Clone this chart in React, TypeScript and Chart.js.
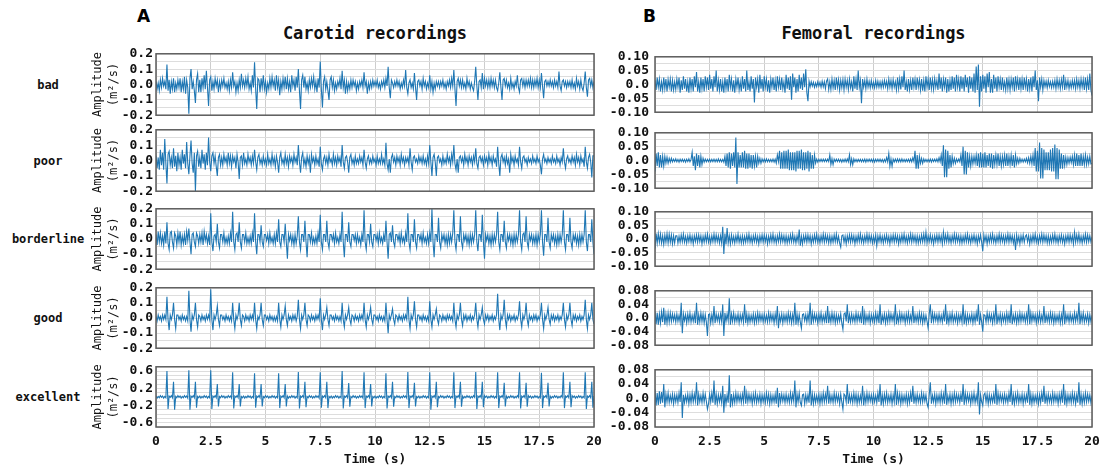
import React, { useEffect, useRef } from "react";
import { Chart, registerables } from "chart.js";

Chart.register(...registerables);

const FONT = "'DejaVu Sans Mono', monospace";
const LINE_COLOR = "#1f77b4";

// Sample times (s), one sample every 0.05 s from 0 to 20
const TIME: number[] = Array.from({ length: 401 }, (_, i) => i / 20);
const X_TICK_STEP = 2.5;

const ROW_LABELS = ["bad", "poor", "borderline", "good", "excellent"];
const COLUMN_TITLES = ["Carotid recordings", "Femoral recordings"];
const PANEL_LETTERS = ["A", "B"];

// ---- Carotid recordings (m²/s), one row per second ----
const CAROTID_BAD = [
  .02,-.03,.01,-.04,.03,-.02,.04,-.01,.02,-.03,.13,-.04,.03,-.06,.02,-.03,.04,-.05,.01,-.03,
  .03,-.02,.04,-.05,.02,-.03,.05,-.06,.03,-.02,-.19,.04,.10,-.03,.02,-.04,-.12,.03,.07,-.05,
  .03,-.05,.04,-.02,.06,-.03,.09,-.02,-.14,.03,.05,-.04,.02,-.03,.04,-.01,.03,-.05,.02,-.03,
  .03,-.01,.04,-.02,.01,-.03,.02,-.04,.03,-.02,.08,-.01,.02,-.05,.01,-.04,.03,-.02,.07,-.01,
  .03,-.02,.04,-.01,.05,-.03,.01,-.04,.06,-.02,.145,-.03,-.16,.04,.03,-.05,.04,-.02,.06,-.03,
  .02,-.05,.01,-.03,.04,-.02,.05,-.01,.03,-.04,.06,-.02,.03,-.07,.02,-.03,.04,-.02,.05,-.03,
  .04,-.03,.02,-.05,.06,-.01,.03,-.04,.05,-.02,.10,-.04,-.16,.03,.06,-.02,.05,-.03,.01,-.04,
  .03,-.02,.04,-.01,.05,-.03,.02,-.05,.04,-.02,.15,-.03,-.15,.02,.05,-.03,.02,-.04,-.10,.03,
  .05,-.02,.03,-.04,.01,-.03,.02,-.01,.04,-.03,.09,-.02,.03,-.06,.02,-.04,.01,-.03,.03,-.02,
  .03,-.01,.02,-.04,.01,-.03,.02,-.01,.03,-.02,.08,-.01,.02,-.06,.01,-.03,.02,-.02,.03,-.01,
  .02,-.01,.03,-.02,.01,-.03,.02,-.01,.03,-.02,.04,-.01,.115,-.02,-.09,.03,.01,-.02,.02,-.01,
  .03,-.01,.02,-.03,.01,-.02,.03,-.01,.095,-.02,-.06,.01,.03,-.02,.01,-.03,.075,-.02,-.10,.02,
  .03,-.01,.02,-.03,.04,-.01,.02,-.03,.01,-.02,.06,-.03,.02,-.05,.01,-.03,.02,-.01,.02,-.02,
  .02,-.01,.03,-.02,.01,-.03,.02,-.01,.03,-.02,.04,-.01,.095,-.03,-.14,.02,.04,-.01,.03,-.02,
  .03,-.02,.01,-.03,.04,-.01,.02,-.03,.01,-.02,-.04,.02,.115,-.01,-.10,.02,.03,-.02,.075,-.03,
  .04,-.01,.03,-.02,.03,-.02,.04,-.01,.03,-.02,.03,-.02,-.04,.01,.08,-.02,-.10,.03,.04,-.01,
  .03,-.02,.01,-.03,.04,-.02,.01,-.03,.02,-.01,.06,-.02,-.05,.03,.04,-.01,.03,-.02,.03,-.01,
  .03,-.01,.04,-.02,.03,-.02,.03,-.01,.04,-.02,.03,-.02,.075,-.01,-.09,.02,.03,-.01,.02,-.01,
  .03,-.01,.02,-.02,.03,-.01,.02,-.02,.085,-.01,-.04,.02,.03,-.01,.02,-.02,.02,-.01,.02,-.02,
  .03,-.02,.01,-.03,.04,-.01,.02,-.03,.03,-.02,-.04,.01,.085,-.02,-.08,.03,.04,-.01,.03,-.02,
  .02,
];
const CAROTID_POOR = [
  .03,-.05,.02,-.06,.07,-.03,.05,-.06,.14,-.02,-.15,.04,.06,-.03,.02,-.05,.08,-.04,.03,-.07,
  .05,-.03,.02,-.06,.07,-.02,.04,-.05,.12,-.02,-.09,.03,.13,-.02,-.08,.05,-.20,.03,.06,-.04,
  .02,-.05,.07,-.02,.04,-.06,.05,-.03,.15,-.01,-.07,.03,.05,-.02,.03,-.04,-.10,.02,.04,-.03,
  .02,-.03,.04,-.01,.02,-.03,.05,-.02,.03,-.04,.03,-.01,.02,-.05,.04,-.01,-.12,.02,.03,-.03,
  .05,-.02,.01,-.03,.04,-.01,.02,-.03,.03,-.02,.07,-.01,-.06,.02,.04,-.02,.01,-.03,.03,-.02,
  .01,-.03,.04,-.02,.01,-.03,.04,-.02,.02,-.04,.03,-.01,-.08,.02,.05,-.02,.01,-.03,.04,-.02,
  .02,-.04,.03,-.01,.02,-.03,.04,-.01,.02,-.03,.10,-.01,-.08,.02,.05,-.03,.01,-.04,.03,-.02,
  .02,-.08,.04,-.01,.02,-.03,.03,-.02,.01,-.04,.09,-.02,-.06,.01,.03,-.02,.02,-.03,.04,-.01,
  .01,-.03,.04,-.02,.02,-.03,.03,-.01,.02,-.04,.10,-.01,-.05,.02,.03,-.01,-.08,.02,.04,-.02,
  .01,-.03,.03,-.02,.01,-.02,.03,-.01,.02,-.03,.07,-.01,-.05,.01,.03,-.02,.01,-.02,.03,-.01,
  .01,-.03,.03,-.02,.01,-.02,.04,-.02,.01,-.03,.115,-.02,-.06,.01,-.08,.02,.04,-.01,.02,-.03,
  .03,-.01,.02,-.03,.04,-.01,.02,-.03,.02,-.01,.02,-.03,.08,-.01,-.06,.02,.03,-.01,.01,-.02,
  .03,-.01,.02,-.02,.03,-.02,.01,-.03,.03,-.02,.10,-.01,-.10,.02,.04,-.01,-.10,.02,.03,-.01,
  .01,-.03,.03,-.02,.01,-.02,.04,-.01,.02,-.03,.04,-.01,.10,-.02,-.06,.01,-.08,.02,.03,-.01,
  .02,-.03,.04,-.01,.02,-.03,.03,-.01,.02,-.03,.03,-.01,.08,-.02,-.05,.02,.03,-.01,.02,-.03,
  .03,-.01,.02,-.03,.04,-.01,.02,-.03,.03,-.01,.01,-.04,.09,-.02,-.10,.02,.04,-.01,.02,-.03,
  .03,-.02,.01,-.08,.04,-.01,.02,-.03,.03,-.01,.01,-.03,.09,-.01,-.05,.02,.03,-.01,.01,-.03,
  .02,-.01,.01,-.02,.03,-.01,.01,-.02,.03,-.01,.01,-.03,-.09,.01,.04,-.01,.01,-.02,.02,-.01,
  .01,-.02,.03,-.01,.01,-.02,.03,-.01,.01,-.03,.02,-.01,.08,-.01,-.05,.01,.03,-.01,.01,-.02,
  .03,-.01,.02,-.03,.04,-.01,.02,-.03,.03,-.01,.01,-.04,.09,-.01,-.05,.02,.04,-.01,-.11,.03,
  .03,
];
const CAROTID_BORDERLINE = [
  .03,-.04,.05,-.02,.04,-.03,.02,-.04,.05,-.03,.11,-.03,-.07,.04,.05,-.02,-.06,.04,.02,-.04,
  .04,-.02,.05,-.04,.02,-.03,.03,-.04,.05,-.01,.07,-.02,-.10,.03,.04,-.02,-.05,.04,.02,-.03,
  .03,-.02,.04,-.04,.05,-.01,.03,-.03,.02,-.04,.17,-.02,-.08,.02,.03,-.02,.10,-.02,-.06,.03,
  .03,-.02,.04,-.03,.01,-.03,.02,-.03,.04,-.02,.18,-.02,-.07,.03,.04,-.02,.11,-.02,-.06,.03,
  .03,-.02,.04,-.03,.01,-.03,.02,-.03,.04,-.02,.17,-.02,-.10,.03,.03,-.02,.09,-.02,-.05,.03,
  .03,-.01,.03,-.03,.04,-.02,.01,-.03,.03,-.03,.04,-.02,.13,-.02,-.05,.03,.03,-.02,.10,-.02,
  -.13,.03,-.01,.03,-.03,.02,-.04,.03,-.03,.02,.15,-.02,-.07,.03,.03,-.02,.12,-.02,-.12,.03,
  .03,-.02,.04,-.03,.01,-.03,.02,-.03,.04,-.02,.16,-.02,-.07,.03,.03,-.02,.12,-.02,-.06,.03,
  .03,-.01,.03,-.03,.04,-.02,.01,-.03,.03,-.02,.18,-.02,-.12,.03,.03,-.02,.11,-.02,-.05,.03,
  .03,-.01,.03,-.03,.03,-.02,.01,-.04,.03,-.02,.19,-.02,-.07,.03,.03,-.02,.10,-.02,-.05,.03,
  .03,-.01,.03,-.03,.04,-.02,.01,-.03,.03,-.02,.12,-.02,-.13,.03,.04,-.02,.09,-.02,-.05,.03,
  .03,-.01,.03,-.03,.04,-.02,.01,-.03,.04,-.02,.17,-.02,-.07,.03,.03,-.02,.13,-.02,-.06,.03,
  .03,-.01,.03,-.03,.04,-.02,.01,-.03,.03,-.03,.04,-.02,.20,-.02,-.12,.03,.03,-.02,.14,-.02,
  -.06,.03,-.01,.03,-.03,.02,-.04,.03,-.03,.03,-.02,.04,.19,-.02,-.07,.03,.03,-.02,.15,-.02,
  -.06,.03,-.01,.03,-.03,.02,-.04,.03,-.03,.03,-.02,.03,.19,-.02,-.08,.03,.03,-.02,.16,-.02,
  -.13,.03,-.01,.03,-.03,.02,-.04,.03,-.03,.03,-.02,.03,.18,-.02,-.07,.03,.03,-.02,.12,-.02,
  -.06,.03,-.01,.03,-.03,.02,-.04,.03,-.03,.03,-.02,.03,.19,-.02,-.07,.03,.04,-.02,.15,-.02,
  -.06,.03,-.01,.03,-.03,.02,-.03,.03,-.04,.03,-.02,.03,.19,-.02,-.11,.03,.03,-.02,.14,-.02,
  -.06,.03,-.01,.03,-.03,.02,-.04,.03,-.03,.03,-.02,.03,.19,-.02,-.07,.03,.03,-.02,.14,-.02,
  -.06,.03,-.01,.03,-.03,.02,-.04,.03,-.03,.03,-.02,.03,.19,-.02,-.08,.03,.03,-.02,.13,-.02,
  -.10,
];
const CAROTID_GOOD = [
  .01,-.02,.02,-.01,.01,-.02,.02,-.01,.02,-.01,.14,-.01,-.08,.02,-.01,.02,.10,-.01,-.07,.02,
  .02,-.01,.01,-.02,.02,-.01,.01,-.02,.01,-.02,.18,-.01,-.09,.02,-.01,.02,.10,-.01,-.06,.02,
  .01,-.02,.02,-.01,.01,-.02,.02,-.01,.02,-.01,.19,-.01,-.08,.02,-.01,.02,.08,-.01,-.05,.02,
  .02,-.01,.01,-.02,.02,-.01,.01,-.02,.01,-.02,.10,-.01,-.07,.02,-.01,.02,.10,-.01,-.05,.02,
  .01,-.02,.02,-.01,.01,-.02,.02,-.01,.02,-.01,.10,-.01,-.07,.01,-.01,.02,.10,-.01,-.05,.02,
  .02,-.01,.01,-.02,.02,-.01,.01,-.02,.01,-.02,.01,-.02,.10,-.01,-.06,.02,-.01,.02,.08,-.01,
  -.05,.02,-.01,.01,-.02,.02,-.01,.02,-.02,.01,.12,-.01,-.07,.02,-.01,.02,.10,-.01,-.05,.02,
  .01,-.02,.02,-.01,.01,-.02,.02,-.01,.02,-.01,.13,-.01,-.08,.02,-.01,.02,.07,-.01,-.05,.02,
  .02,-.01,.01,-.02,.02,-.01,.01,-.02,.01,-.02,.10,-.01,-.06,.02,-.01,.02,.07,-.01,-.04,.02,
  .01,-.02,.02,-.01,.01,-.02,.02,-.01,.02,-.01,.10,-.01,-.06,.02,-.01,.02,.07,-.01,-.04,.02,
  .02,-.01,.01,-.02,.02,-.01,.01,-.02,.01,-.02,.10,-.01,-.10,.02,-.01,.02,.06,-.01,-.04,.02,
  .01,-.02,.02,-.01,.01,-.02,.02,-.01,.02,-.01,.14,-.01,-.07,.02,-.01,.02,.11,-.01,-.06,.02,
  .02,-.01,.01,-.02,.02,-.01,.01,-.02,.01,-.02,.11,-.01,-.06,.02,-.01,.02,.06,-.01,-.04,.02,
  .01,-.02,.02,-.01,.01,-.02,.02,-.01,.02,-.01,.01,-.02,.10,-.01,-.06,.02,-.01,.02,.10,-.01,
  -.05,.02,-.01,.02,-.02,.01,-.01,.02,-.02,.01,-.01,.02,.10,-.01,-.06,.02,-.01,.02,.07,-.01,
  -.04,.02,-.01,.02,-.02,.01,-.01,.02,-.02,.01,-.01,.02,.16,-.01,-.08,.02,-.01,.02,.12,-.01,
  -.06,.02,-.01,.02,-.02,.01,-.01,.02,-.02,.01,-.01,.02,.11,-.01,-.06,.02,-.01,.02,.10,-.01,
  -.05,.02,-.01,.01,-.02,.02,-.01,.02,-.02,.01,-.01,.02,.10,-.01,-.07,.02,-.01,.02,.07,-.01,
  -.04,.02,-.01,.02,-.02,.01,-.01,.02,-.02,.01,-.01,.02,.10,-.01,-.06,.02,-.01,.02,.10,-.01,
  -.05,.02,-.01,.02,-.02,.01,-.01,.02,-.02,.01,-.01,.02,.12,-.01,-.07,.02,-.01,.02,.10,-.01,
  -.04,
];
const CAROTID_EXCELLENT = [
  .02,-.03,.01,-.02,.03,-.01,.02,-.03,.01,-.02,.60,-.28,.02,-.01,.03,-.02,.35,-.30,.01,-.02,
  .03,-.01,.02,-.03,.01,-.02,.03,-.01,.02,-.03,.62,-.30,.02,-.01,.03,-.02,.35,-.25,.01,-.02,
  .02,-.03,.01,-.02,.03,-.01,.02,-.03,.01,-.02,.62,-.28,.02,-.01,.03,-.02,.30,-.22,.01,-.02,
  .03,-.01,.02,-.03,.01,-.02,.03,-.01,.02,-.03,.57,-.27,.02,-.01,.03,-.02,.30,-.22,.01,-.02,
  .02,-.03,.01,-.02,.03,-.01,.02,-.03,.01,-.02,.55,-.25,.02,-.01,.03,-.02,.30,-.22,.01,-.02,
  .03,-.01,.02,-.03,.01,-.02,.03,-.01,.02,-.03,.01,-.02,.55,-.26,.02,-.01,.03,-.02,.30,-.22,
  .02,-.03,.01,-.02,.03,-.01,.02,-.03,.01,-.02,.58,-.27,.02,-.01,.03,-.02,.35,-.24,.01,-.02,
  .03,-.01,.02,-.03,.01,-.02,.03,-.01,.02,-.03,.57,-.25,.02,-.01,.03,-.02,.35,-.26,.01,-.02,
  .02,-.03,.01,-.02,.03,-.01,.02,-.03,.01,-.02,.60,-.27,.02,-.01,.03,-.02,.32,-.23,.01,-.02,
  .03,-.01,.02,-.03,.01,-.02,.03,-.01,.02,-.03,.57,-.26,.02,-.01,.03,-.02,.30,-.22,.01,-.02,
  .02,-.03,.01,-.02,.03,-.01,.02,-.03,.01,-.02,.55,-.27,.02,-.01,.03,-.02,.35,-.23,.01,-.02,
  .03,-.01,.02,-.03,.01,-.02,.03,-.01,.02,-.03,.58,-.26,.02,-.01,.03,-.02,.33,-.22,.01,-.02,
  .02,-.03,.01,-.02,.03,-.01,.02,-.03,.01,-.02,.57,-.30,.02,-.01,.03,-.02,.35,-.24,.01,-.02,
  .03,-.01,.02,-.03,.01,-.02,.03,-.01,.02,-.03,.01,-.02,.57,-.26,.02,-.01,.03,-.02,.35,-.23,
  .02,-.03,.01,-.02,.03,-.01,.02,-.03,.01,-.02,.03,-.01,.58,-.28,.02,-.01,.03,-.02,.35,-.24,
  .03,-.01,.02,-.03,.01,-.02,.03,-.01,.02,-.03,.01,-.02,.57,-.26,.02,-.01,.03,-.02,.33,-.22,
  .02,-.03,.01,-.02,.03,-.01,.02,-.03,.01,-.02,.03,-.01,.57,-.27,.02,-.01,.03,-.02,.33,-.23,
  .03,-.01,.02,-.03,.01,-.02,.03,-.01,.02,-.03,.01,-.02,.56,-.26,.02,-.01,.03,-.02,.33,-.22,
  .02,-.03,.01,-.02,.03,-.01,.02,-.03,.01,-.02,.03,-.01,.57,-.26,.02,-.01,.03,-.02,.35,-.24,
  .03,-.01,.02,-.03,.01,-.02,.03,-.01,.02,-.03,.01,-.02,.57,-.28,.02,-.01,.03,-.02,.35,-.25,
  .02,
];

// ---- Femoral recordings (m²/s), one row per second ----
const FEMORAL_BAD = [
  .015,-.02,.025,-.01,.02,-.025,.01,-.02,.025,-.015,.02,-.025,.018,-.01,.02,-.025,.015,-.02,.01,-.018,
  .02,-.01,.025,-.03,.015,-.02,.03,-.015,.02,-.025,.01,-.03,.025,-.015,.02,-.025,.03,-.01,.045,-.025,
  .01,-.03,.025,-.015,.02,-.025,.03,-.01,.025,-.02,.035,-.015,.02,-.025,.03,-.01,.05,-.025,.015,-.02,
  .02,-.025,.01,-.03,.025,-.015,.02,-.025,.035,-.01,.02,-.025,.015,-.03,.02,-.01,.025,-.02,.01,-.025,
  .03,-.015,.02,-.025,.05,-.02,.01,-.025,.03,-.015,.02,-.065,.025,-.01,.02,-.03,.035,-.015,.02,-.025,
  .03,-.01,.02,-.025,.015,-.03,.02,-.01,.025,-.02,.015,-.025,.03,-.01,.02,-.02,.025,-.015,.01,-.03,
  .035,-.015,.025,-.02,.03,-.055,.04,-.01,.025,-.03,.02,-.025,.035,-.015,.025,-.02,.04,-.01,.055,-.03,
  -.06,.012,-.008,.01,-.006,.008,-.01,.006,-.008,.01,-.006,.008,-.01,.012,-.008,.01,-.015,.012,.02,-.018,
  .01,-.018,.02,-.012,.015,-.02,.025,-.01,.018,-.02,.015,-.012,.018,-.02,.02,-.01,.015,-.018,.02,-.012,
  .01,-.025,.03,-.015,.02,-.02,.05,-.01,.015,-.068,.02,-.01,.015,-.015,.02,-.01,.012,-.012,.015,-.01,
  .008,-.012,.015,-.01,.012,-.01,.01,-.012,.012,-.01,.015,-.008,.012,-.015,.02,-.01,.015,-.015,.018,-.01,
  .01,-.02,.025,-.015,.02,-.018,.03,-.01,.05,-.02,.01,-.025,.02,-.018,.015,-.02,.025,-.01,.02,-.02,
  .025,-.01,.018,-.02,.02,-.022,.015,-.025,.03,-.01,.02,-.02,.025,-.015,.018,-.018,.022,-.01,.015,-.02,
  .04,-.015,.025,-.025,.02,-.01,.025,-.03,.02,-.025,.015,-.02,.03,-.015,.025,-.025,.035,-.01,.02,-.025,
  .03,-.015,.025,-.025,.035,-.01,.025,-.03,.03,-.015,.025,-.025,.04,-.03,.065,-.02,.072,-.08,.03,-.025,
  .035,-.015,.03,-.03,.04,-.01,.045,-.03,.02,-.03,.035,-.015,.025,-.025,.03,-.01,.02,-.02,.025,-.015,
  .01,-.02,.025,-.015,.018,-.02,.02,-.01,.025,-.025,.03,-.01,.02,-.02,.025,-.015,.02,-.02,.025,-.01,
  .02,-.025,.02,-.015,.025,-.025,.03,-.01,.05,-.02,.015,-.06,.025,-.01,.02,-.02,.015,-.008,.012,-.012,
  .015,-.008,.01,-.012,.012,-.01,.015,-.015,.02,-.01,.015,-.015,.018,-.01,.035,-.02,.015,-.01,.015,-.015,
  .01,-.012,.015,-.01,.015,-.015,.02,-.01,.015,-.015,.02,-.01,.018,-.02,.025,-.015,.02,-.02,.04,-.02,
  -.04,
];
const FEMORAL_POOR = [
  -.04,.025,-.02,.03,-.025,.02,-.025,.015,-.02,.015,-.01,.012,-.01,.008,-.006,.008,-.005,.005,-.004,.006,
  -.005,.004,-.006,.005,-.004,.005,-.005,.004,-.006,.005,-.004,.006,-.005,.004,.03,-.02,.015,-.035,.025,-.02,
  .02,-.025,.015,-.015,.008,-.006,.005,-.005,.004,-.004,.005,-.005,.004,-.004,.005,-.005,.004,-.005,.006,-.005,
  .004,-.005,.004,-.006,.015,-.02,.025,-.025,.03,-.03,.025,-.02,.03,-.025,.083,-.085,.03,-.025,.02,-.025,
  .03,-.025,.035,-.03,.025,-.03,.025,-.025,.02,-.03,.02,-.02,.015,-.025,.015,-.01,.008,-.01,.006,-.005,
  .005,-.005,.006,-.005,.004,-.005,.004,-.005,.005,-.006,.005,-.01,.02,-.004,.035,-.03,.03,-.03,.035,-.03,
  .035,-.03,.04,-.035,.03,-.035,.03,-.035,.03,-.04,.035,-.03,.035,-.03,.04,-.035,.03,-.035,.03,-.03,
  .035,-.04,.03,-.03,.02,-.03,.02,-.01,.005,-.006,.005,-.004,.005,-.004,.005,-.004,.005,-.004,.005,-.004,
  .02,-.015,.006,-.015,.005,-.004,.005,-.004,.005,-.005,.004,-.006,.004,-.005,.005,-.005,.006,-.005,.02,-.015,
  .006,-.015,.006,-.005,.004,-.005,.004,-.004,.004,-.005,.004,-.005,.005,-.006,.005,-.004,.005,-.004,.005,-.005,
  .005,-.006,.005,-.004,.005,-.004,.005,-.005,.004,-.006,.004,-.005,.01,-.005,.025,-.02,.006,-.02,.005,-.005,
  .005,-.005,.006,-.005,.005,-.005,.006,-.005,.004,-.005,.004,-.004,.005,-.005,.006,-.005,.01,-.004,.035,-.03,
  .02,-.03,.015,-.01,.008,-.01,.006,-.005,.004,-.005,.004,-.005,.005,-.006,.005,-.004,.005,-.004,.006,-.005,
  .01,-.005,.02,-.02,.055,-.06,.04,-.06,.035,-.03,.02,-.025,.015,-.012,.008,-.01,.006,-.005,.005,-.005,
  .02,-.02,.05,-.05,.035,-.05,.03,-.025,.015,-.02,.015,-.012,.015,-.01,.02,-.02,.025,-.025,.03,-.025,
  .025,-.025,.03,-.025,.02,-.02,.025,-.025,.025,-.03,.02,-.015,.02,-.015,.025,-.02,.015,-.02,.015,-.015,
  .02,-.02,.025,-.02,.015,-.015,.02,-.02,.02,-.025,.02,-.012,.008,-.01,.008,-.006,.005,-.006,.005,-.005,
  .008,-.008,.01,-.01,.015,-.012,.02,-.02,.045,-.04,.035,-.04,.065,-.065,.045,-.065,.04,-.035,.03,-.035,
  .03,-.035,.04,-.04,.045,-.04,.058,-.068,.045,-.068,.04,-.03,.025,-.03,.02,-.018,.012,-.015,.01,-.01,
  .012,-.008,.015,-.015,.02,-.02,.025,-.02,.02,-.02,.025,-.02,.015,-.015,.02,-.015,.012,-.012,.015,-.012,
  -.01,
];
const FEMORAL_BORDERLINE = [
  -.035,.02,-.015,.02,-.012,.018,-.015,.012,-.02,.015,-.012,.02,-.015,.018,-.012,.015,-.018,.012,-.015,.012,
  .012,-.015,.01,-.012,.015,-.01,.018,-.012,.01,-.015,.012,-.01,.015,-.012,.01,-.018,.012,-.01,.015,-.012,
  .015,-.01,.012,-.018,.01,-.012,.015,-.01,.018,-.012,.01,-.015,.012,-.01,.018,-.012,.015,-.01,.012,-.015,
  .012,-.015,.045,-.055,.02,-.02,.04,-.015,.012,-.018,.015,-.012,.01,-.015,.012,-.01,.018,-.012,.01,-.015,
  .012,-.015,.01,-.012,.015,-.01,.018,-.012,.01,-.015,.012,-.01,.015,-.012,.01,-.018,.012,-.01,.015,-.012,
  .015,-.01,.012,-.018,.01,-.012,.015,-.01,.018,-.012,.01,-.015,.012,-.01,.018,-.012,.015,-.01,.012,-.015,
  .012,-.015,.01,-.012,.015,-.01,.018,-.012,.01,-.015,.012,-.01,.035,-.025,.01,-.018,.012,-.01,.015,-.012,
  .015,-.01,.012,-.018,.01,-.012,.015,-.01,.018,-.012,.01,-.015,.012,-.01,.018,-.012,.015,-.01,.012,-.015,
  .012,-.015,.01,-.012,.015,-.01,.018,-.012,.01,-.015,-.03,.012,.015,-.012,.01,-.018,.012,-.01,.015,-.012,
  .015,-.01,.012,-.018,.01,-.012,.015,-.01,.018,-.012,.01,-.015,.012,-.01,.018,-.012,.015,-.01,.012,-.015,
  .01,-.012,.015,-.025,.012,-.01,.015,-.012,.01,-.015,.012,-.01,.015,-.012,.01,-.018,.012,-.01,.015,-.012,
  .015,-.01,.012,-.018,.01,-.012,.015,-.01,.018,-.012,.01,-.015,.012,-.01,.018,-.012,.015,-.01,.012,-.015,
  .012,-.015,.01,-.012,.015,-.01,.018,-.012,.025,-.015,.012,-.01,.015,-.012,.01,-.018,.012,-.01,.015,-.012,
  .015,-.01,.012,-.018,.025,-.012,.015,-.01,.018,-.012,.01,-.015,.012,-.01,.018,-.012,.015,-.01,.012,-.015,
  .012,-.015,.01,-.012,.015,-.01,.018,-.012,.01,-.015,.012,-.01,.015,-.012,.01,-.018,.012,-.01,.015,-.012,
  -.045,.015,-.01,.012,-.018,.01,-.012,.015,-.01,.018,-.012,.01,-.015,.012,-.01,.018,-.012,.015,-.01,.012,
  -.015,.012,-.01,.018,-.012,.015,-.01,.012,-.015,.01,-.04,.015,-.012,.01,-.018,.012,-.01,.015,-.012,.01,
  .015,-.01,.012,-.018,.01,-.012,.015,-.01,.018,-.012,.01,-.015,.012,-.01,.018,-.012,.015,-.01,.012,-.015,
  .012,-.015,.01,-.012,.015,-.01,.018,-.012,.01,-.015,.012,-.01,.015,-.012,.01,-.018,.012,-.01,.015,-.012,
  .015,-.01,.012,-.018,.025,-.012,.015,-.01,.018,-.012,.01,-.015,.012,-.01,.018,-.012,.015,-.01,.012,-.01,
  .008,
];
const FEMORAL_GOOD = [
  .02,-.018,.015,-.02,.012,-.015,.018,-.012,.03,-.02,.012,-.015,.015,-.012,.015,-.01,.012,-.008,.01,-.012,
  .012,-.01,.008,-.012,.045,-.045,.012,-.008,.01,-.015,.012,-.01,.015,-.012,.008,-.01,.012,-.015,.045,-.02,
  .01,-.012,.015,-.01,.012,-.015,.01,-.012,-.053,.01,.012,-.015,.01,-.012,.035,-.015,.012,-.008,.01,-.012,
  .012,-.01,.04,-.053,.015,-.01,.012,-.008,.058,-.02,.012,-.01,.015,-.012,.008,-.01,.012,-.015,.01,-.01,
  .01,-.012,.04,-.015,.012,-.015,.01,-.012,.008,-.01,.012,-.015,.01,-.012,.015,-.01,.012,-.008,.01,-.012,
  .012,-.01,.008,-.012,.015,-.01,.012,-.008,.01,-.015,.012,-.01,.035,-.03,.008,-.01,.012,-.015,.01,-.01,
  .01,-.012,.015,-.01,.012,-.015,.01,-.012,.045,-.02,.012,-.015,.01,-.012,-.03,.01,.012,-.008,.01,-.012,
  .012,-.01,.045,-.02,.015,-.01,.012,-.008,.01,-.015,.012,-.01,.015,-.012,.008,-.01,.012,-.015,.035,-.015,
  .01,-.012,.015,-.01,.012,-.015,.01,-.012,.008,-.01,.012,-.015,-.033,.012,.015,-.01,.04,-.015,.01,-.012,
  .012,-.01,.008,-.012,.015,-.01,.012,-.008,.01,-.015,.035,-.02,.015,-.012,.008,-.01,.012,-.015,.01,-.01,
  .01,-.012,.015,-.01,.012,-.015,.04,-.02,.008,-.01,.012,-.015,.01,-.012,.015,-.01,.012,-.008,.01,-.012,
  .04,-.018,.008,-.012,.015,-.01,.012,-.008,.01,-.015,.012,-.01,.015,-.012,.008,-.01,.035,-.015,.01,-.01,
  .01,-.012,.015,-.01,.012,-.015,.01,-.012,.008,-.01,-.03,.012,.04,-.015,.015,-.01,.012,-.008,.01,-.012,
  .012,-.01,.008,-.012,.015,-.01,.04,-.018,.01,-.015,.012,-.01,.015,-.012,.008,-.01,.012,-.015,.01,-.01,
  .01,-.012,.04,-.018,.012,-.015,.01,-.012,.008,-.01,.012,-.015,.01,-.012,.015,-.01,.04,-.02,.01,-.012,
  -.04,.01,.008,-.012,.015,-.01,.012,-.008,.01,-.015,.012,-.01,.04,-.018,.008,-.01,.012,-.015,.01,-.01,
  .01,-.012,.015,-.01,.012,-.015,.04,-.018,.008,-.01,.012,-.015,.01,-.012,.015,-.01,.012,-.008,.01,-.012,
  .012,-.01,.04,-.018,.015,-.01,.012,-.008,.01,-.015,.012,-.01,.015,-.012,.008,-.01,.035,-.015,.01,-.01,
  .01,-.012,.015,-.01,.012,-.015,.01,-.012,.008,-.01,.012,-.015,.01,-.012,.04,-.018,.012,-.008,.01,-.012,
  .012,-.01,.008,-.012,.015,-.01,.012,-.008,.045,-.018,.012,-.01,.015,-.012,.008,-.01,.012,-.015,.01,-.01,
  .008,
];
const FEMORAL_EXCELLENT = [
  .025,-.02,.015,-.018,.02,-.015,.018,-.012,.04,-.025,.012,-.01,.015,-.012,.008,-.01,.012,-.015,.01,-.01,
  .01,-.012,.015,-.01,.045,-.055,.01,-.012,.008,-.01,.012,-.015,.01,-.012,.015,-.01,.012,-.008,.045,-.02,
  .012,-.01,.008,-.012,.015,-.01,.012,-.008,-.03,-.015,.012,-.01,.015,-.012,.05,-.018,.012,-.015,.01,-.01,
  .01,-.012,.035,-.04,.012,-.015,.01,-.012,.065,-.025,.012,-.015,.01,-.012,.015,-.01,.012,-.008,.01,-.012,
  .012,-.01,.035,-.015,.015,-.01,.012,-.008,.01,-.015,.012,-.01,.015,-.012,.008,-.01,.012,-.015,.01,-.01,
  .01,-.012,.015,-.01,.012,-.015,.01,-.012,.008,-.01,.012,-.015,.03,-.025,.015,-.01,.012,-.008,.01,-.012,
  .012,-.01,.008,-.012,.015,-.01,.012,-.008,.05,-.025,.012,-.01,.015,-.012,-.02,.01,.012,-.015,.01,-.01,
  .01,-.012,.05,-.02,.012,-.015,.01,-.012,.008,-.01,.012,-.015,.01,-.012,.015,-.01,.012,-.008,.035,-.015,
  .012,-.01,.008,-.012,.015,-.01,.012,-.008,.01,-.015,.012,-.01,-.03,.012,.008,-.01,.04,-.015,.01,-.01,
  .01,-.012,.015,-.01,.012,-.015,.01,-.012,.008,-.01,.035,-.02,.01,-.012,.015,-.01,.012,-.008,.01,-.012,
  .012,-.01,.008,-.012,.015,-.01,.04,-.02,.01,-.015,.012,-.01,.015,-.012,.008,-.01,.012,-.015,.01,-.01,
  .04,-.018,.015,-.01,.012,-.015,.01,-.012,.008,-.01,.012,-.015,.01,-.012,.015,-.01,.035,-.015,.01,-.012,
  .012,-.01,.008,-.012,.015,-.01,.012,-.008,.01,-.015,-.025,.01,.045,-.015,.008,-.01,.012,-.015,.01,-.01,
  .01,-.012,.015,-.01,.012,-.015,.04,-.018,.008,-.01,.012,-.015,.01,-.012,.015,-.01,.012,-.008,.01,-.012,
  .012,-.01,.04,-.018,.015,-.01,.012,-.008,.01,-.015,.012,-.01,.015,-.012,.008,-.01,.045,-.045,.01,-.01,
  -.02,.01,.015,-.01,.012,-.015,.01,-.012,.008,-.01,.012,-.015,.04,-.018,.015,-.01,.012,-.008,.01,-.012,
  .012,-.01,.008,-.012,.015,-.01,.04,-.018,.01,-.015,.012,-.01,.015,-.012,.008,-.01,.012,-.015,.01,-.01,
  .01,-.012,.04,-.018,.012,-.015,.01,-.012,.008,-.01,.012,-.015,.01,-.012,.015,-.01,.035,-.015,.01,-.012,
  .012,-.01,.008,-.012,.015,-.01,.012,-.008,.01,-.015,.012,-.01,.015,-.012,.04,-.018,.012,-.015,.01,-.01,
  .01,-.012,.015,-.01,.012,-.015,.01,-.012,.045,-.018,.012,-.015,.01,-.012,.015,-.01,.012,-.008,.01,-.012,
  .008,
];

// ---- Axis ranges ----
const CAROTID_RANGE = { min: -0.2, max: 0.2, step: 0.05, major: 0.1, base: 0, digits: 1 };
const CAROTID_EXC_RANGE = { min: -0.7, max: 0.7, step: 0.1, major: 0.4, base: 0.2, digits: 1 };
const FEMORAL_RANGE = { min: -0.1, max: 0.1, step: 0.025, major: 0.05, base: 0, digits: 2 };
const FEMORAL_SMALL_RANGE = { min: -0.08, max: 0.08, step: 0.02, major: 0.04, base: 0, digits: 2 };

const CAROTID_SERIES = [CAROTID_BAD, CAROTID_POOR, CAROTID_BORDERLINE, CAROTID_GOOD, CAROTID_EXCELLENT];
const FEMORAL_SERIES = [FEMORAL_BAD, FEMORAL_POOR, FEMORAL_BORDERLINE, FEMORAL_GOOD, FEMORAL_EXCELLENT];
const CAROTID_RANGES = [CAROTID_RANGE, CAROTID_RANGE, CAROTID_RANGE, CAROTID_RANGE, CAROTID_EXC_RANGE];
const FEMORAL_RANGES = [FEMORAL_RANGE, FEMORAL_RANGE, FEMORAL_RANGE, FEMORAL_SMALL_RANGE, FEMORAL_SMALL_RANGE];

// plot area rows (top, bottom) in page pixels
const ROWS: [number, number][] = [[53, 116], [129, 192], [208, 270], [287, 349], [366, 427]];
const COLS = [
  { canvasLeft: 80, canvasWidth: 530, axisW: 76, plotRight: 594 },
  { canvasLeft: 600, canvasWidth: 509, axisW: 55, plotRight: 1092 },
];

type Range = typeof CAROTID_RANGE;

const framePlugin = {
  id: "frame",
  afterDraw(chart: any) {
    const { ctx, chartArea } = chart;
    const { left, top, right, bottom } = chartArea;
    ctx.save();
    ctx.strokeStyle = "#5c5c5c";
    ctx.lineWidth = 1.5;
    ctx.strokeRect(left, top, right - left, bottom - top);
    ctx.restore();
  },
};

function Panel({ values, range, col, row }: { values: number[]; range: Range; col: number; row: number }) {
  const ref = useRef<HTMLCanvasElement>(null);
  const isBottom = row === ROWS.length - 1;
  const isLeft = col === 0;
  const [pt, pb] = ROWS[row];
  const c = COLS[col];
  const top = pt - 10;
  const height = isBottom ? 470 - top : pb - pt + 20;

  useEffect(() => {
    if (!ref.current) return;
    const fmt = (v: number) => {
      const k = (v - range.base) / range.major;
      if (Math.abs(k - Math.round(k)) > 1e-6) return "";
      if (Math.abs(v) < 1e-9) return "0.0";
      return v.toFixed(range.digits);
    };
    const chart = new Chart(ref.current, {
      type: "line",
      data: {
        datasets: [
          {
            data: values.map((v, i) => ({ x: TIME[i], y: v })),
            borderColor: LINE_COLOR,
            borderWidth: 1.1,
            pointRadius: 0,
            tension: 0,
            fill: false,
          },
        ],
      },
      options: {
        animation: false,
        responsive: false,
        devicePixelRatio: 1,
        events: [],
        layout: {
          padding: { top: 10, bottom: isBottom ? 0 : 10, left: 0, right: c.canvasLeft + c.canvasWidth - c.plotRight },
        },
        plugins: { legend: { display: false }, tooltip: { enabled: false } },
        scales: {
          x: {
            type: "linear",
            min: 0,
            max: 20,
            ticks: {
              stepSize: X_TICK_STEP,
              display: isBottom,
              autoSkip: false,
              maxRotation: 0,
              padding: 7,
              color: "#111",
              font: { family: FONT, size: 13, weight: "bold" },
              callback: (v: any) => String(v),
            },
            grid: { color: "#cdcdcd", lineWidth: 1, drawTicks: false },
            border: { display: false },
            title: {
              display: isBottom,
              text: "Time (s)",
              color: "#111",
              font: { family: FONT, size: 13, weight: "bold" },
              padding: { top: 0, bottom: 3 },
            },
            afterFit: (s: any) => {
              s.height = isBottom ? 43 : 0;
            },
          },
          y: {
            type: "linear",
            min: range.min,
            max: range.max,
            ticks: {
              stepSize: range.step,
              autoSkip: false,
              padding: isLeft ? 3 : 6,
              color: "#111",
              font: { family: FONT, size: 13, weight: "bold" },
              callback: (v: any) => fmt(Number(v)),
            },
            grid: { color: "#dddddd", lineWidth: 1, drawTicks: false },
            border: { display: false },
            title: {
              display: isLeft,
              text: ["Amplitude", "(m²/s)"],
              color: "#111",
              font: { family: FONT, size: 12, lineHeight: 1.3 },
              padding: { top: 10, bottom: 0 },
            },
            afterFit: (s: any) => {
              s.width = c.axisW;
            },
          },
        },
      } as any,
      plugins: [framePlugin],
    });
    return () => chart.destroy();
  }, []);

  return (
    <canvas
      ref={ref}
      width={c.canvasWidth}
      height={height}
      style={{ position: "absolute", left: c.canvasLeft, top, width: c.canvasWidth, height }}
    />
  );
}

export default function App() {
  return (
    <div
      style={{
        position: "absolute",
        left: 0,
        top: 0,
        width: 1109,
        height: 470,
        background: "#fff",
        overflow: "hidden",
      }}
    >
      {PANEL_LETTERS.map((l, i) => (
        <div
          key={l}
          style={{
            position: "absolute",
            left: i === 0 ? 137 : 643,
            top: 6,
            fontFamily: "'DejaVu Sans', sans-serif",
            fontWeight: "bold",
            fontSize: 17,
            color: "#000",
          }}
        >
          {l}
        </div>
      ))}
      {COLUMN_TITLES.map((t, i) => (
        <div
          key={t}
          style={{
            position: "absolute",
            left: i === 0 ? 156 : 655,
            width: i === 0 ? 438 : 437,
            top: 22,
            textAlign: "center",
            fontFamily: FONT,
            fontWeight: "bold",
            fontSize: 17,
            lineHeight: "22px",
            color: "#111",
          }}
        >
          {t}
        </div>
      ))}
      {ROW_LABELS.map((lab, r) => (
        <div
          key={lab}
          style={{
            position: "absolute",
            left: 0,
            width: 96,
            top: (ROWS[r][0] + ROWS[r][1]) / 2 - 8,
            textAlign: "center",
            fontFamily: FONT,
            fontWeight: "bold",
            fontSize: 12,
            lineHeight: "16px",
            color: "#111",
          }}
        >
          {lab}
        </div>
      ))}
      {CAROTID_SERIES.map((s, r) => (
        <Panel key={"c" + r} values={s} range={CAROTID_RANGES[r]} col={0} row={r} />
      ))}
      {FEMORAL_SERIES.map((s, r) => (
        <Panel key={"f" + r} values={s} range={FEMORAL_RANGES[r]} col={1} row={r} />
      ))}
    </div>
  );
}
